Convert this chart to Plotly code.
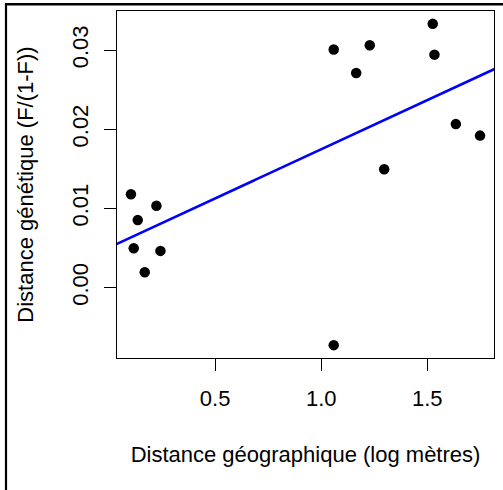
import numpy as np
import plotly.graph_objects as go

# Data
geo_dist = [0.103, 0.135, 0.223, 0.116, 0.242, 0.168, 1.059, 1.165, 1.229,
            1.297, 1.526, 1.534, 1.635, 1.749, 1.059]
gen_dist = [0.01179, 0.00853, 0.01034, 0.00498, 0.00464, 0.00194, 0.03008,
            0.02712, 0.03062, 0.01496, 0.03333, 0.02944, 0.02066, 0.01921,
            -0.00727]
x_ticks = [0.5, 1.0, 1.5]
x_ticklabels = ["0.5", "1.0", "1.5"]
y_ticks = [0.00, 0.01, 0.02, 0.03]
y_ticklabels = ["0.00", "0.01", "0.02", "0.03"]

W, H = 503, 490
ML, MR, MT, MB = 117, 9, 11, 132
FONT = "Liberation Sans, Arial, Helvetica, sans-serif"


def padded(vals, frac=0.04):
    lo, hi = min(vals), max(vals)
    d = (hi - lo) * frac
    return [lo - d, hi + d]


xr = padded(geo_dist)
yr = padded(gen_dist)

# linear regression (as abline(lm(...)))
slope, intercept = np.polyfit(geo_dist, gen_dist, 1)
line_x = [xr[0] - 1, xr[1] + 1]
line_y = [intercept + slope * v for v in line_x]

fig = go.Figure()
fig.add_trace(go.Scatter(x=line_x, y=line_y, mode="lines",
                         line=dict(color="#0000ff", width=2.6),
                         hoverinfo="skip", showlegend=False))
fig.add_trace(go.Scatter(x=geo_dist, y=gen_dist, mode="markers",
                         marker=dict(color="black", size=10.5),
                         showlegend=False))

pw = W - ML - MR
ph = H - MT - MB
# outer frame (extends past right/bottom of image): top and left edges
fx0 = (6 - ML) / pw
fx1 = (W + 10 - ML) / pw
fy0 = -(H + 10 - MT - ph) / ph
fy1 = 1 + (MT - 4.5) / ph
fig.add_shape(type="path", xref="paper", yref="paper",
              path=f"M {fx0},{fy0} L {fx0},{fy1} L {fx1},{fy1}",
              line=dict(color="black", width=2.2))

axis_common = dict(showgrid=False, zeroline=False, showline=True,
                   linecolor="black", linewidth=1, mirror=True,
                   ticks="outside", ticklen=12, tickwidth=1, tickcolor="black",
                   automargin=False,
                   tickfont=dict(family=FONT, size=22, color="black"))

fig.update_xaxes(range=xr, tickvals=x_ticks, ticktext=x_ticklabels,
                 ticklabelstandoff=9,
                 title=dict(text="Distance géographique (log mètres)",
                            font=dict(family=FONT, size=22, color="black"),
                            standoff=36),
                 **axis_common)
fig.update_yaxes(range=yr, tickvals=y_ticks, ticktext=y_ticklabels,
                 tickangle=-90, ticklabelstandoff=7,
                 title=dict(text="Distance génétique (F/(1-F))",
                            font=dict(family=FONT, size=22, color="black"),
                            standoff=28),
                 **axis_common)

fig.update_layout(width=W, height=H, autosize=False,
                  margin=dict(l=ML, r=MR, t=MT, b=MB, pad=0),
                  paper_bgcolor="white", plot_bgcolor="white",
                  font=dict(family=FONT, size=22, color="black"),
                  showlegend=False)

post = (
    "document.body.style.margin='0px';"
    "document.body.style.overflow='hidden';"
    "var fr=document.createElement('div');"
    "fr.style.cssText='position:absolute;left:5px;top:3px;width:1000px;"
    "height:1000px;border-top:2px solid black;border-left:2px solid black;"
    "pointer-events:none;box-sizing:content-box;';"
    "document.body.appendChild(fr);"
)
fig.write_html("out.html", config={"displayModeBar": False}, post_script=post)
